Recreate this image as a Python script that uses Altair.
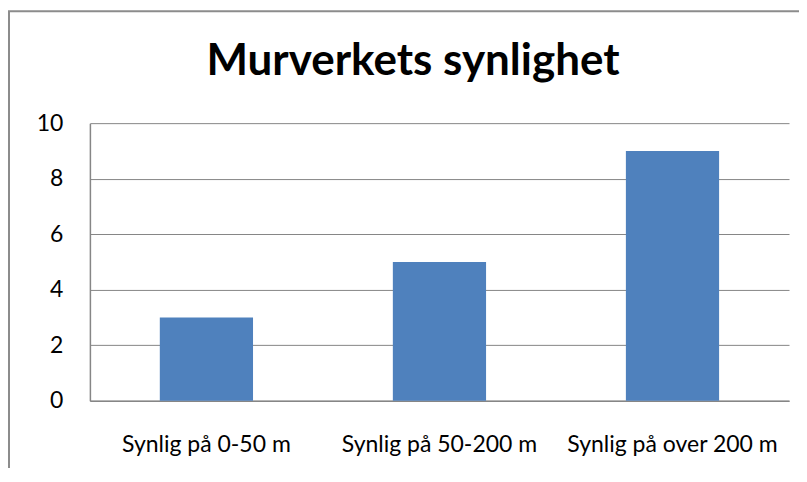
import altair as alt
import pandas as pd

categories = ["Synlig på 0-50 m", "Synlig på 50-200 m", "Synlig på over 200 m"]
values = [3, 5, 9]
y_ticks = [0, 2, 4, 6, 8, 10]
title_text = "Murverkets synlighet"

df = pd.DataFrame({"cat": categories, "val": values})

FONT = "Lato"
GRAY = "#868686"

bars = alt.Chart(df).mark_bar(color="#4F81BD").encode(
    x=alt.X(
        "cat:N",
        sort=categories,
        scale=alt.Scale(paddingInner=0.6, paddingOuter=0.3),
        axis=alt.Axis(
            title=None, labelAngle=0, ticks=False, grid=False,
            domainColor=GRAY, domainWidth=1.5,
            labelFont=FONT, labelFontSize=23, labelColor="black",
            labelBaseline="alphabetic", labelPadding=51, labelLimit=0,
        ),
    ),
    y=alt.Y(
        "val:Q",
        scale=alt.Scale(domain=[0, 10], nice=False),
        axis=alt.Axis(
            title=None, values=y_ticks, ticks=False, grid=True,
            gridColor=GRAY, gridWidth=1, gridOpacity=1,
            domainColor=GRAY, domainWidth=1.5,
            labelFont=FONT, labelFontSize=23, labelColor="black",
            labelPadding=27,
        ),
    ),
)

title = alt.Chart(pd.DataFrame({"t": [title_text]})).mark_text(
    font=FONT, fontSize=44, fontWeight="bold", color="black",
    align="center", baseline="alphabetic",
).encode(text="t:N", x=alt.value(323.5), y=alt.value(-48))

frame = alt.Chart(pd.DataFrame({"a": [0]})).mark_rect(
    fillOpacity=0, stroke="#8c8c8c", strokeWidth=2,
).encode(x=alt.value(-81), x2=alt.value(760), y=alt.value(-112), y2=alt.value(460))

chart = alt.layer(frame, bars, title).properties(
    width=700, height=278,
    padding={"left": 82, "top": 115, "right": 10, "bottom": 67},
    autosize=alt.AutoSizeParams(type="none"),
    background="white",
).configure_view(strokeWidth=0)

chart.save("out.html", embed_options={"renderer": "svg", "actions": False})
